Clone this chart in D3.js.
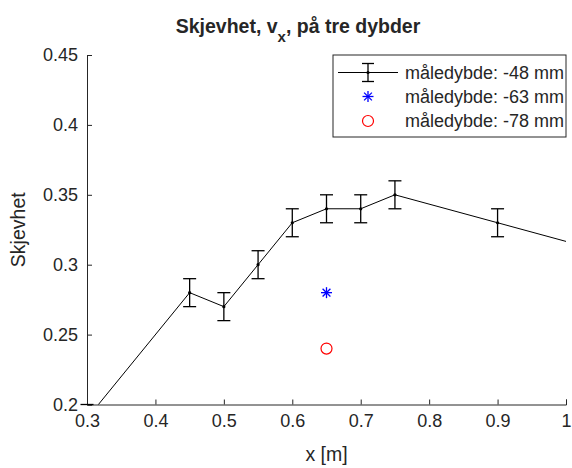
<!DOCTYPE html>
<html><head><meta charset="utf-8">
<script src="https://cdn.jsdelivr.net/npm/d3@7"></script>
<style>body{margin:0;background:#fff}svg{display:block}text{font-family:"Liberation Sans",Arial,sans-serif;fill:#262626}</style>
</head><body><svg id="c" width="572" height="468"></svg>
<script>
const xVals = [0.3, 0.45, 0.5, 0.55, 0.6, 0.65, 0.7, 0.75, 0.9, 1.05];
const yVals = [0.19, 0.28, 0.27, 0.30, 0.33, 0.34, 0.34, 0.35, 0.33, 0.31];
const errVals = [0.01, 0.01, 0.01, 0.01, 0.01, 0.01, 0.01, 0.01, 0.01, 0.01];
const star63 = [{x: 0.65, y: 0.28}];
const circ78 = [{x: 0.65, y: 0.24}];
const xTicks = [0.3, 0.4, 0.5, 0.6, 0.7, 0.8, 0.9, 1];
const yTicks = [0.2, 0.25, 0.3, 0.35, 0.4, 0.45];
const legendLabels = ["måledybde: -48 mm", "måledybde: -63 mm", "måledybde: -78 mm"];

const svg = d3.select("#c");
const L = 87, R = 566, T = 55, B = 404.5;
const x = d3.scaleLinear().domain([0.3, 1]).range([L, R]);
const y = d3.scaleLinear().domain([0.2, 0.45]).range([B, T]);
const ink = "#262626";

svg.append("defs").append("clipPath").attr("id", "clip")
  .append("rect").attr("x", L).attr("y", T).attr("width", R - L).attr("height", B - T);

// axes
const xAxis = svg.append("g").attr("transform", `translate(0,${B})`)
  .call(d3.axisBottom(x).tickValues(xTicks).tickSize(-5).tickPadding(10).tickFormat(d => d3.format("~g")(d)));
const yAxis = svg.append("g").attr("transform", `translate(${L},0)`)
  .call(d3.axisLeft(y).tickValues(yTicks).tickSize(-5).tickPadding(9).tickFormat(d => d3.format("~g")(d)));
[xAxis, yAxis].forEach(a => {
  a.select(".domain").attr("stroke", ink).attr("stroke-width", 1);
  a.selectAll(".tick line").attr("stroke", ink);
  a.selectAll("text").attr("font-size", 18).attr("font-family", "Liberation Sans, Arial, sans-serif").attr("fill", ink);
});

// data line
const g = svg.append("g");
const pts = xVals.map((v, i) => ({x: v, y: yVals[i], e: errVals[i]}));
g.append("path").datum(pts).attr("clip-path", "url(#clip)")
  .attr("fill", "none").attr("stroke", "#000").attr("stroke-width", 1)
  .attr("d", d3.line().x(d => x(d.x)).y(d => y(d.y)));

// error bars
const [yMin, yMax] = y.domain();
const inX = d => d.x >= 0.3 - 1e-9 && d.x <= 1 + 1e-9;
const cap = 6.5;
pts.filter(inX).forEach(d => {
  const lo = d.y - d.e, hi = d.y + d.e;
  const a = Math.max(lo, yMin), b = Math.min(hi, yMax);
  if (b > a) g.append("line").attr("x1", x(d.x)).attr("x2", x(d.x)).attr("y1", y(a)).attr("y2", y(b))
    .attr("stroke", "#000").attr("stroke-width", 1.3);
  [lo, hi].forEach(v => {
    if (v >= yMin - 1e-9 && v <= yMax + 1e-9)
      g.append("line").attr("x1", x(d.x) - cap).attr("x2", x(d.x) + cap).attr("y1", y(v)).attr("y2", y(v))
        .attr("stroke", "#000").attr("stroke-width", 1.3);
  });
  if (d.y >= yMin && d.y <= yMax)
    g.append("circle").attr("cx", x(d.x)).attr("cy", y(d.y)).attr("r", 1.6).attr("fill", "#000");
});

// asterisk marker
function asterisk(sel, cx, cy, s, col) {
  const d = s * 0.7071;
  [[-s,0,s,0],[0,-s,0,s],[-d,-d,d,d],[-d,d,d,-d]].forEach(p =>
    sel.append("line").attr("x1", cx + p[0]).attr("y1", cy + p[1]).attr("x2", cx + p[2]).attr("y2", cy + p[3])
      .attr("stroke", col).attr("stroke-width", 1.3));
}
star63.forEach(d => asterisk(g, x(d.x), y(d.y), 5.5, "#0000ff"));
circ78.forEach(d => g.append("circle").attr("cx", x(d.x)).attr("cy", y(d.y)).attr("r", 5.5)
  .attr("fill", "none").attr("stroke", "#ff0000").attr("stroke-width", 1.2));

// title
const title = svg.append("text").attr("x", 298).attr("y", 33).attr("text-anchor", "middle")
  .attr("font-size", 19.5).attr("font-weight", "bold");
title.append("tspan").text("Skjevhet, v");
title.append("tspan").attr("dy", 9).attr("font-size", 15).text("x");
title.append("tspan").attr("dy", -9).text(", på tre dybder");

// axis labels
svg.append("text").attr("x", (L + R) / 2).attr("y", 461).attr("text-anchor", "middle")
  .attr("font-size", 19.5).text("x [m]");
svg.append("text").attr("transform", `translate(25,${(T + B) / 2}) rotate(-90)`).attr("text-anchor", "middle")
  .attr("font-size", 19.5).text("Skjevhet");

// legend
const lg = svg.append("g");
lg.append("rect").attr("x", 333).attr("y", 55).attr("width", 233).attr("height", 82)
  .attr("fill", "#fff").attr("stroke", ink).attr("stroke-width", 1);
const rows = [72.5, 96.5, 121];
const ix = 368;
lg.append("line").attr("x1", 338).attr("x2", 398).attr("y1", rows[0]).attr("y2", rows[0]).attr("stroke", "#000").attr("stroke-width", 1);
lg.append("line").attr("x1", ix).attr("x2", ix).attr("y1", rows[0] - 9).attr("y2", rows[0] + 9).attr("stroke", "#000").attr("stroke-width", 1.3);
[-9, 9].forEach(o => lg.append("line").attr("x1", ix - 6).attr("x2", ix + 6).attr("y1", rows[0] + o).attr("y2", rows[0] + o).attr("stroke", "#000").attr("stroke-width", 1.3));
lg.append("circle").attr("cx", ix).attr("cy", rows[0]).attr("r", 1.6).attr("fill", "#000");
asterisk(lg, ix, rows[1], 5.5, "#0000ff");
lg.append("circle").attr("cx", ix).attr("cy", rows[2]).attr("r", 5.5).attr("fill", "none").attr("stroke", "#ff0000").attr("stroke-width", 1.2);
legendLabels.forEach((t, i) => lg.append("text").attr("x", 405).attr("y", rows[i]).attr("dy", "0.35em")
  .attr("font-size", 18).text(t));
</script></body></html>
